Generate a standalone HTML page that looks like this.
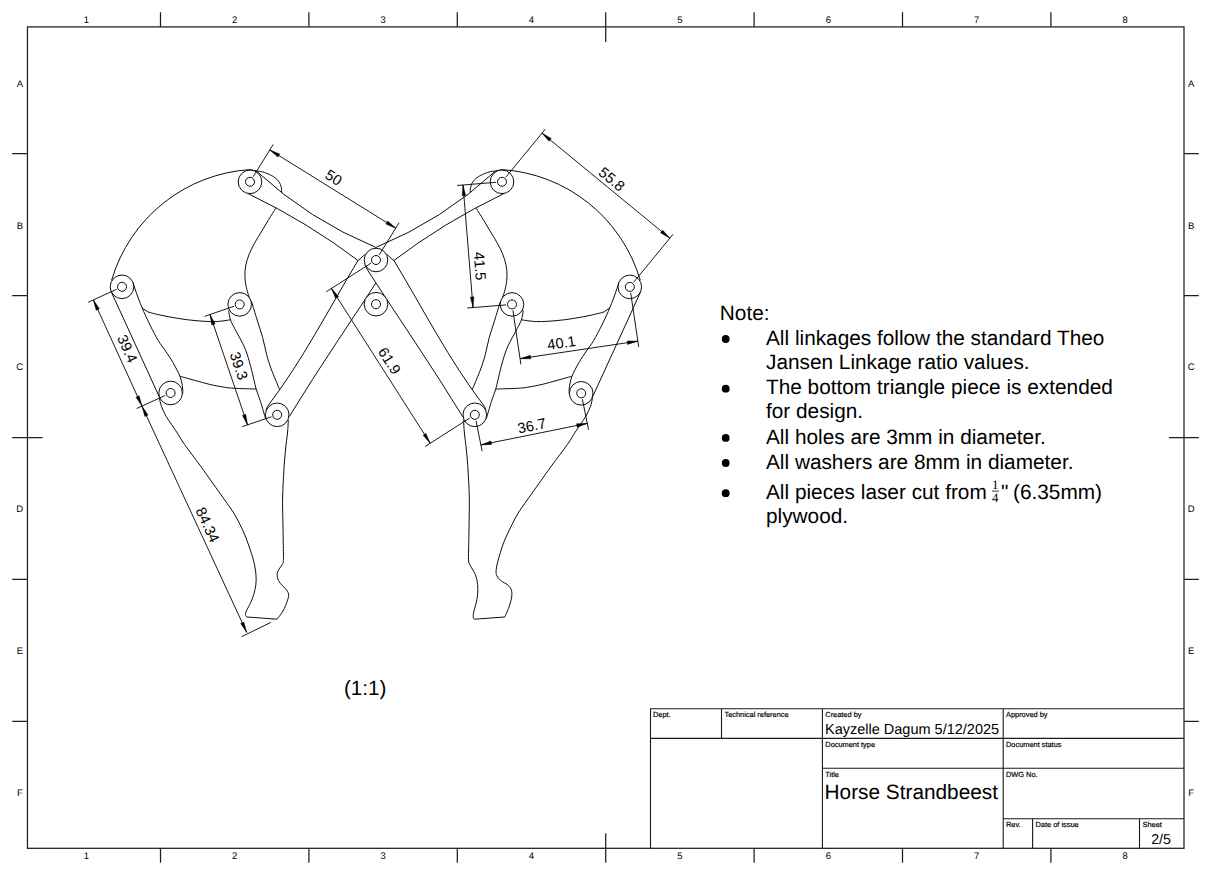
<!DOCTYPE html><html><head><meta charset="utf-8"><style>html,body{margin:0;padding:0;background:#fff;width:1209px;height:873px;overflow:hidden}svg{display:block}text{font-family:"Liberation Sans",sans-serif;fill:#000;text-rendering:geometricPrecision}</style></head><body>
<svg width="1209" height="873" viewBox="0 0 1209 873">
<g stroke="#1e1e1e" stroke-width="1.25" fill="none">
<rect x="27.45" y="26.9" width="1156.55" height="821.4"/>
<path d="M160.5 12.2V26.9M160.5 848.3V862.8M308.9 12.2V26.9M308.9 848.3V862.8M457.3 12.2V26.9M457.3 848.3V862.8M605.7 12.2V41.9M605.7 833.3V862.8M754.1 12.2V26.9M754.1 848.3V862.8M902.5 12.2V26.9M902.5 848.3V862.8M1050.9 12.2V26.9M1050.9 848.3V862.8M12.2 153.7H27.45M1184.0 153.7H1198.8M12.2 295.6H27.45M1184.0 295.6H1198.8M12.2 437.5H42.45M1169.0 437.5H1198.8M12.2 579.4H27.45M1184.0 579.4H1198.8M12.2 721.3H27.45M1184.0 721.3H1198.8"/>
</g>
<g font-size="9.5" text-anchor="middle">
<text x="86.3" y="23">1</text><text x="86.3" y="859.4">1</text>
<text x="234.7" y="23">2</text><text x="234.7" y="859.4">2</text>
<text x="383.1" y="23">3</text><text x="383.1" y="859.4">3</text>
<text x="531.5" y="23">4</text><text x="531.5" y="859.4">4</text>
<text x="679.9" y="23">5</text><text x="679.9" y="859.4">5</text>
<text x="828.3" y="23">6</text><text x="828.3" y="859.4">6</text>
<text x="976.7" y="23">7</text><text x="976.7" y="859.4">7</text>
<text x="1125.1" y="23">8</text><text x="1125.1" y="859.4">8</text>
<text x="19.8" y="86.6">A</text><text x="1191.2" y="86.6">A</text>
<text x="19.8" y="228.5">B</text><text x="1191.2" y="228.5">B</text>
<text x="19.8" y="370.4">C</text><text x="1191.2" y="370.4">C</text>
<text x="19.8" y="512.3">D</text><text x="1191.2" y="512.3">D</text>
<text x="19.8" y="654.2">E</text><text x="1191.2" y="654.2">E</text>
<text x="19.8" y="796.1">F</text><text x="1191.2" y="796.1">F</text>
</g>
<g stroke="#1a1a1a" stroke-width="1.1" fill="none">
<path d="M650.5 848.3V708.8H1184.0M650.5 738.4H1184.0M721.5 708.8V738.4M822.4 708.8V848.3M1003.2 708.8V848.3M822.4 768.2H1184.0M1003.2 818.8H1184.0M1032.6 818.8V848.3M1139.5 818.8V848.3"/>
</g>
<g font-size="7.4" stroke="#000" stroke-width="0.18">
<text x="653" y="717">Dept.</text>
<text x="724.5" y="717">Technical reference</text>
<text x="825.3" y="717">Created by</text>
<text x="1006" y="717">Approved by</text>
<text x="825.3" y="747">Document type</text>
<text x="1006" y="747">Document status</text>
<text x="825.3" y="777">Title</text>
<text x="1006" y="777">DWG No.</text>
<text x="1006" y="827">Rev.</text>
<text x="1035.5" y="827">Date of issue</text>
<text x="1142.5" y="827">Sheet</text>
</g>
<text x="825" y="733.9" font-size="14.5">Kayzelle Dagum 5/12/2025</text>
<text x="824.6" y="798.9" font-size="20.8">Horse Strandbeest</text>
<text x="1151.2" y="843.5" font-size="14.2">2/5</text>
<g font-size="20.8">
<text x="719.8" y="319.9">Note:</text>
<text x="766" y="344.6">All linkages follow the standard Theo</text>
<text x="766" y="369.1">Jansen Linkage ratio values.</text>
<text x="766" y="394.2">The bottom triangle piece is extended</text>
<text x="766" y="418.4">for design.</text>
<text x="766" y="443.7">All holes are 3mm in diameter.</text>
<text x="766" y="468.5">All washers are 8mm in diameter.</text>
<text x="766" y="498.7">All pieces laser cut from</text>
<text x="766" y="522.5">plywood.</text>
<text x="1001" y="498.7">"</text><text x="1013" y="498.7">(6.35mm)</text>
</g>
<circle cx="725.7" cy="339" r="3.9" fill="#000"/>
<circle cx="725.7" cy="388.7" r="3.9" fill="#000"/>
<circle cx="725.7" cy="437.9" r="3.9" fill="#000"/>
<circle cx="725.7" cy="463" r="3.9" fill="#000"/>
<circle cx="725.7" cy="493.2" r="3.9" fill="#000"/>
<g font-size="12.8" text-anchor="middle"><text x="995.3" y="489.4" style="font-family:'Liberation Serif',serif">1</text><text x="995.3" y="502.4" style="font-family:'Liberation Serif',serif">4</text></g>
<path d="M992 491.1H999" stroke="#000" stroke-width="0.8"/>
<text x="344" y="694.8" font-size="20.6">(1:1)</text>
<g fill="#fff" stroke="#000" stroke-width="0.95" stroke-linejoin="round">
<path d="M111.7 280A154.4 154.4 0 0 1 250 169.6C251.08 169.83 254.42 170.62 256.5 171C258.58 171.38 259.97 171.13 262.5 171.9C265.03 172.67 269.03 174.07 271.7 175.6C274.37 177.13 276.9 179.12 278.5 181.1C280.1 183.08 280.78 185.52 281.3 187.5C281.82 189.48 281.55 192.08 281.6 193L278 204L275.6 208.6C274.45 210.42 270.98 215.78 268.7 219.5C266.42 223.22 264.18 227.08 261.9 230.9C259.62 234.72 257.1 238.58 255 242.4C252.9 246.22 250.83 249.98 249.3 253.8C247.77 257.62 246.53 261.67 245.8 265.3C245.07 268.93 244.9 272.35 244.9 275.6C244.9 278.85 245.27 281.75 245.8 284.8C246.33 287.85 247.33 291.37 248.1 293.9C248.87 296.43 250.02 298.98 250.4 300L240 304L231 316L230.5 319.8C227.92 320.1 220.92 321.47 215 321.6C209.08 321.73 201.25 321.15 195 320.6C188.75 320.05 183.33 319.23 177.5 318.3C171.67 317.37 164.92 316.05 160 315C155.08 313.95 150 312.5 148 312L125 296Z"/>
<path d="M640.2 280A154.4 154.4 0 0 0 501.9 169.6C500.82 169.83 497.48 170.62 495.4 171C493.32 171.38 491.93 171.13 489.4 171.9C486.87 172.67 482.87 174.07 480.2 175.6C477.53 177.13 475 179.12 473.4 181.1C471.8 183.08 471.12 185.52 470.6 187.5C470.08 189.48 470.35 192.08 470.3 193L473.9 204L476.3 208.6C477.45 210.42 480.92 215.78 483.2 219.5C485.48 223.22 487.72 227.08 490 230.9C492.28 234.72 494.8 238.58 496.9 242.4C499 246.22 501.07 249.98 502.6 253.8C504.13 257.62 505.37 261.67 506.1 265.3C506.83 268.93 507 272.35 507 275.6C507 278.85 506.63 281.75 506.1 284.8C505.57 287.85 504.57 291.37 503.8 293.9C503.03 296.43 501.88 298.98 501.5 300L511.9 304L520.9 316L521.4 319.8C523.98 320.1 530.98 321.47 536.9 321.6C542.82 321.73 550.65 321.15 556.9 320.6C563.15 320.05 568.57 319.23 574.4 318.3C580.23 317.37 586.98 316.05 591.9 315C596.82 313.95 601.9 312.5 603.9 312L626.9 296Z"/>
<path d="M180.5 376.4C182.9 377.07 190.03 379.07 194.9 380.4C199.77 381.73 204.75 383.25 209.7 384.4C214.65 385.55 220.45 386.65 224.6 387.3C228.75 387.95 229.28 388 234.6 388.3C239.92 388.6 252.85 388.97 256.5 389.1L263 392L276 405L288.3 420.4C288.18 422.33 288.07 427.07 287.6 432C287.13 436.93 286.12 443.67 285.5 450C284.88 456.33 284.38 462 283.9 470C283.42 478 282.78 490.13 282.6 498C282.42 505.87 282.7 510.2 282.8 517.2C282.9 524.2 283.1 532.82 283.2 540C283.3 547.18 283.58 556.2 283.4 560.3C283.22 564.4 283.03 562.73 282.1 564.6C281.17 566.47 278.58 569.35 277.8 571.5C277.02 573.65 276.97 575.5 277.4 577.5C277.83 579.5 279.05 581.63 280.4 583.5C281.75 585.37 284.15 586.98 285.5 588.7C286.85 590.42 288.13 591.95 288.5 593.8C288.87 595.65 288.62 596.93 287.7 599.8C286.78 602.67 284.8 607.77 283 611C281.2 614.23 277.92 617.83 276.9 619.2L246.9 617C246.68 616.78 245.75 616.55 245.6 615.7C245.45 614.85 245.22 613.97 246 611.9C246.78 609.83 249.02 606.17 250.3 603.3C251.58 600.43 252.77 597.85 253.7 594.7C254.63 591.55 255.53 587.83 255.9 584.4C256.27 580.97 256.27 577.97 255.9 574.1C255.53 570.23 254.92 566.05 253.7 561.2C252.48 556.35 250.4 550.12 248.6 545C246.8 539.88 245.28 535.68 242.9 530.5C240.52 525.32 237.33 518.98 234.3 513.9C231.27 508.82 228.32 505.15 224.7 500C221.08 494.85 216.62 488.65 212.6 483C208.58 477.35 205.3 472.55 200.6 466.1C195.9 459.65 188.25 449.75 184.4 444.3C180.55 438.85 179.6 436.65 177.5 433.4C175.4 430.15 173.72 427.67 171.8 424.8C169.88 421.93 167.72 419.25 166 416.2C164.28 413.15 162.58 409.42 161.5 406.5C160.42 403.58 159.83 400 159.5 398.7L166 384Z"/>
<path d="M571.4 376.4C569 377.07 561.87 379.07 557 380.4C552.13 381.73 547.15 383.25 542.2 384.4C537.25 385.55 531.45 386.65 527.3 387.3C523.15 387.95 522.62 388 517.3 388.3C511.98 388.6 499.05 388.97 495.4 389.1L488.9 392L475.9 405L463.6 420.4C463.72 422.33 463.83 427.07 464.3 432C464.77 436.93 465.78 443.67 466.4 450C467.02 456.33 467.52 462 468 470C468.48 478 469.13 488 469.3 498C469.47 508 469.12 521.33 469 530C468.88 538.67 468.67 544.8 468.6 550C468.53 555.2 468.17 558.33 468.6 561.2C469.03 564.07 470.05 564.92 471.2 567.2C472.35 569.48 474.43 572.03 475.5 574.9C476.57 577.77 477.25 581.1 477.6 584.4C477.95 587.7 477.88 591.42 477.6 594.7C477.32 597.98 476.55 601.23 475.9 604.1C475.25 606.97 474.13 609.6 473.7 611.9C473.27 614.2 473.15 616.68 473.3 617.9C473.45 619.12 474.38 618.98 474.6 619.2L504.7 617C505.33 615.57 507.37 611.55 508.5 608.4C509.63 605.25 511 601.1 511.5 598.1C512 595.1 512.07 592.55 511.5 590.4C510.93 588.25 509.82 586.78 508.1 585.2C506.38 583.62 503.07 582.47 501.2 580.9C499.33 579.33 497.75 577.52 496.9 575.8C496.05 574.08 496.02 572.75 496.1 570.6C496.18 568.45 496.68 565.9 497.4 562.9C498.12 559.9 499.38 555.92 500.4 552.6C501.42 549.28 502.05 546.68 503.5 543C504.95 539.32 506.75 535.33 509.1 530.5C511.45 525.67 514.58 519.08 517.6 514C520.62 508.92 523.58 505.17 527.2 500C530.82 494.83 535.28 488.65 539.3 483C543.32 477.35 546.6 472.55 551.3 466.1C556 459.65 563.65 449.75 567.5 444.3C571.35 438.85 572.3 436.65 574.4 433.4C576.5 430.15 578.18 427.67 580.1 424.8C582.02 421.93 584.18 419.25 585.9 416.2C587.62 413.15 589.32 409.42 590.4 406.5C591.48 403.58 592.07 400 592.4 398.7L585.9 384Z"/>
<path d="M256.5 171.2A398.8 398.8 0 0 0 375.2 247.1L388 258L378 273L360.5 262.3A642.8 642.8 0 0 0 248.2 193.7L238 182L250 170.5Z"/>
<path d="M111.2 291.7L159.8 397.9L170.6 404.5L182.6 394C182.6 393 183 390.83 182.6 388C182.2 385.17 181.8 381.23 180.2 377C178.6 372.77 175.45 366.93 173 362.6C170.55 358.27 167.95 354.67 165.5 351C163.05 347.33 160.8 344.77 158.3 340.6C155.8 336.43 152.95 330.88 150.5 326C148.05 321.12 145.77 316.3 143.6 311.3C141.43 306.3 139.3 300.9 137.5 296C135.7 291.1 133.58 284.25 132.8 281.9L122 276Z"/>
<path d="M228.7 311.1C229.02 312.62 229.37 316.85 230.6 320.2C231.83 323.55 234.12 327.38 236.1 331.2C238.08 335.02 240.67 339.28 242.5 343.1C244.33 346.92 245.57 349.53 247.1 354.1C248.63 358.67 250.2 364.73 251.7 370.5C253.2 376.27 254.63 383.53 256.1 388.7C257.57 393.87 258.93 396.55 260.5 401.5C262.07 406.45 264.67 415.58 265.5 418.4L277 426L289 414L281 393C280.65 392.15 280.53 391.9 278.9 387.9C277.27 383.9 273.25 374.57 271.2 369C269.15 363.43 268.02 359.72 266.6 354.5C265.18 349.28 264.27 343.42 262.7 337.7C261.13 331.98 259.03 326.17 257.2 320.2C255.37 314.23 252.62 304.95 251.7 301.9L240 293Z"/>
<path d="M495.4 171.2A398.8 398.8 0 0 1 376.7 247.1L363.9 258L373.9 273L391.4 262.3A642.8 642.8 0 0 1 503.7 193.7L513.9 182L501.9 170.5Z"/>
<path d="M640.7 291.7L592.1 397.9L581.3 404.5L569.3 394C569.3 393 568.9 390.83 569.3 388C569.7 385.17 570.1 381.23 571.7 377C573.3 372.77 576.45 366.93 578.9 362.6C581.35 358.27 583.95 354.67 586.4 351C588.85 347.33 591.1 344.77 593.6 340.6C596.1 336.43 598.95 330.88 601.4 326C603.85 321.12 606.13 316.3 608.3 311.3C610.47 306.3 612.6 300.9 614.4 296C616.2 291.1 618.32 284.25 619.1 281.9L629.9 276Z"/>
<path d="M523.2 311.1C522.88 312.62 522.53 316.85 521.3 320.2C520.07 323.55 517.78 327.38 515.8 331.2C513.82 335.02 511.23 339.28 509.4 343.1C507.57 346.92 506.33 349.53 504.8 354.1C503.27 358.67 501.7 364.73 500.2 370.5C498.7 376.27 497.27 383.53 495.8 388.7C494.33 393.87 492.97 396.55 491.4 401.5C489.83 406.45 487.23 415.58 486.4 418.4L474.9 426L462.9 414L470.9 393C471.25 392.15 471.37 391.9 473 387.9C474.63 383.9 478.65 374.57 480.7 369C482.75 363.43 483.88 359.72 485.3 354.5C486.72 349.28 487.63 343.42 489.2 337.7C490.77 331.98 492.87 326.17 494.7 320.2C496.53 314.23 499.28 304.95 500.2 301.9L511.9 293Z"/>
<path d="M386.9 265L384.4 270C352.91 318.68 319.73 366.48 289.5 416.2L279.9 426L265.9 410L268.3 405.3C303.03 359.78 328.3 309.65 357.7 261L363.7 255.5L369.9 252L379.9 252Z"/>
<path d="M365 265L367.5 270C398.99 318.68 432.17 366.48 462.4 416.2L472 426L486 410L483.6 405.3C448.87 359.78 423.6 309.65 394.2 261L388.2 255.5L382 252L372 252Z"/>
</g>
<g fill="#fff" stroke="#000" stroke-width="0.95">
<circle cx="250" cy="181.8" r="11.8"/><circle cx="250" cy="181.8" r="4.5"/>
<circle cx="376" cy="260" r="11.8"/><circle cx="376" cy="260" r="4.5"/>
<circle cx="122" cy="286.8" r="11.8"/><circle cx="122" cy="286.8" r="4.5"/>
<circle cx="239.7" cy="304.4" r="11.8"/><circle cx="239.7" cy="304.4" r="4.5"/>
<circle cx="376" cy="304.2" r="11.8"/><circle cx="376" cy="304.2" r="4.5"/>
<circle cx="170.6" cy="393" r="11.8"/><circle cx="170.6" cy="393" r="4.5"/>
<circle cx="277.2" cy="414.8" r="11.8"/><circle cx="277.2" cy="414.8" r="4.5"/>
<circle cx="502" cy="181.8" r="11.8"/><circle cx="502" cy="181.8" r="4.5"/>
<circle cx="512" cy="304.4" r="11.8"/><circle cx="512" cy="304.4" r="4.5"/>
<circle cx="629.8" cy="286.9" r="11.8"/><circle cx="629.8" cy="286.9" r="4.5"/>
<circle cx="581.2" cy="393.3" r="11.8"/><circle cx="581.2" cy="393.3" r="4.5"/>
<circle cx="474.8" cy="414.8" r="11.8"/><circle cx="474.8" cy="414.8" r="4.5"/>
</g>
<g stroke="#000" stroke-width="0.9" fill="none">
<path d="M253.16 176.7L273.15 144.5M379.16 254.9L399.15 222.7M269.77 149.94L395.77 228.14M505.81 177.17L545.26 129.2M633.61 282.27L673.06 234.3M542.02 133.14L669.82 238.24M496.02 182.29L457.15 185.46M506.02 304.89L467.15 308.06M463.03 184.98L473.03 307.58M116.54 289.3L88.08 302.32M165.14 395.5L136.68 408.52M93.36 299.91L141.96 406.11M234.02 306.33L204.67 316.3M271.52 416.73L242.17 426.7M210.02 314.48L247.52 424.88M370.94 263.23L326.27 291.74M469.74 418.03L425.07 446.54M331.41 288.46L430.21 443.26M512.88 310.33L520.92 364.44M630.68 292.83L638.72 346.94M520.06 358.65L637.86 341.15M475.99 420.68L482.15 451.17M582.39 399.18L588.55 429.67M480.88 444.89L587.28 423.39M241.6 636.7L270.8 622.4M141.96 406.11L246.7 632.4"/>
</g><g fill="#000" stroke="#000" stroke-width="0.45" stroke-linejoin="round">
<path d="M269.77 149.94L277.86 157.01L279.7 154.04ZM395.77 228.14L387.69 221.06L385.85 224.03ZM542.02 133.14L549.09 141.23L551.31 138.52ZM669.82 238.24L662.74 230.16L660.52 232.86ZM463.03 184.98L462.15 195.69L465.64 195.4ZM473.03 307.58L473.91 296.87L470.42 297.16ZM93.36 299.91L96.18 310.27L99.36 308.82ZM141.96 406.11L139.14 395.74L135.95 397.2ZM210.02 314.48L211.77 325.08L215.08 323.96ZM247.52 424.88L245.76 414.28L242.45 415.41ZM331.41 288.46L335.64 298.34L338.59 296.45ZM430.21 443.26L425.98 433.38L423.03 435.27ZM520.06 358.65L530.8 358.83L530.29 355.37ZM637.86 341.15L627.12 340.98L627.63 344.44ZM480.88 444.89L491.62 444.51L490.92 441.08ZM587.28 423.39L576.54 423.78L577.24 427.21ZM141.96 406.11L144.82 416.46L148 414.99ZM246.7 632.4L243.84 622.05L240.66 623.52Z"/>
</g>
<g font-size="14.7" text-anchor="middle">
<text x="333.77" y="177.44" dy="0.36em" transform="rotate(31.8 333.77 177.44)">50</text>
<text x="611.97" y="179.1" dy="0.36em" transform="rotate(39.4 611.97 179.1)">55.8</text>
<text x="480.1" y="266.03" dy="0.36em" transform="rotate(85.3 480.1 266.03)">41.5</text>
<text x="127.52" y="348.63" dy="0.36em" transform="rotate(65.4 127.52 348.63)">39.4</text>
<text x="239.05" y="365.81" dy="0.36em" transform="rotate(71.2 239.05 365.81)">39.3</text>
<text x="389.56" y="360.72" dy="0.36em" transform="rotate(57.45 389.56 360.72)">61.9</text>
<text x="561.47" y="342.71" dy="0.36em" transform="rotate(-8.45 561.47 342.71)">40.1</text>
<text x="531.82" y="425.52" dy="0.36em" transform="rotate(-11.4 531.82 425.52)">36.7</text>
<text x="207.82" y="524.82" dy="0.36em" transform="rotate(65.1 207.82 524.82)">84.34</text>
</g>
</svg></body></html>
